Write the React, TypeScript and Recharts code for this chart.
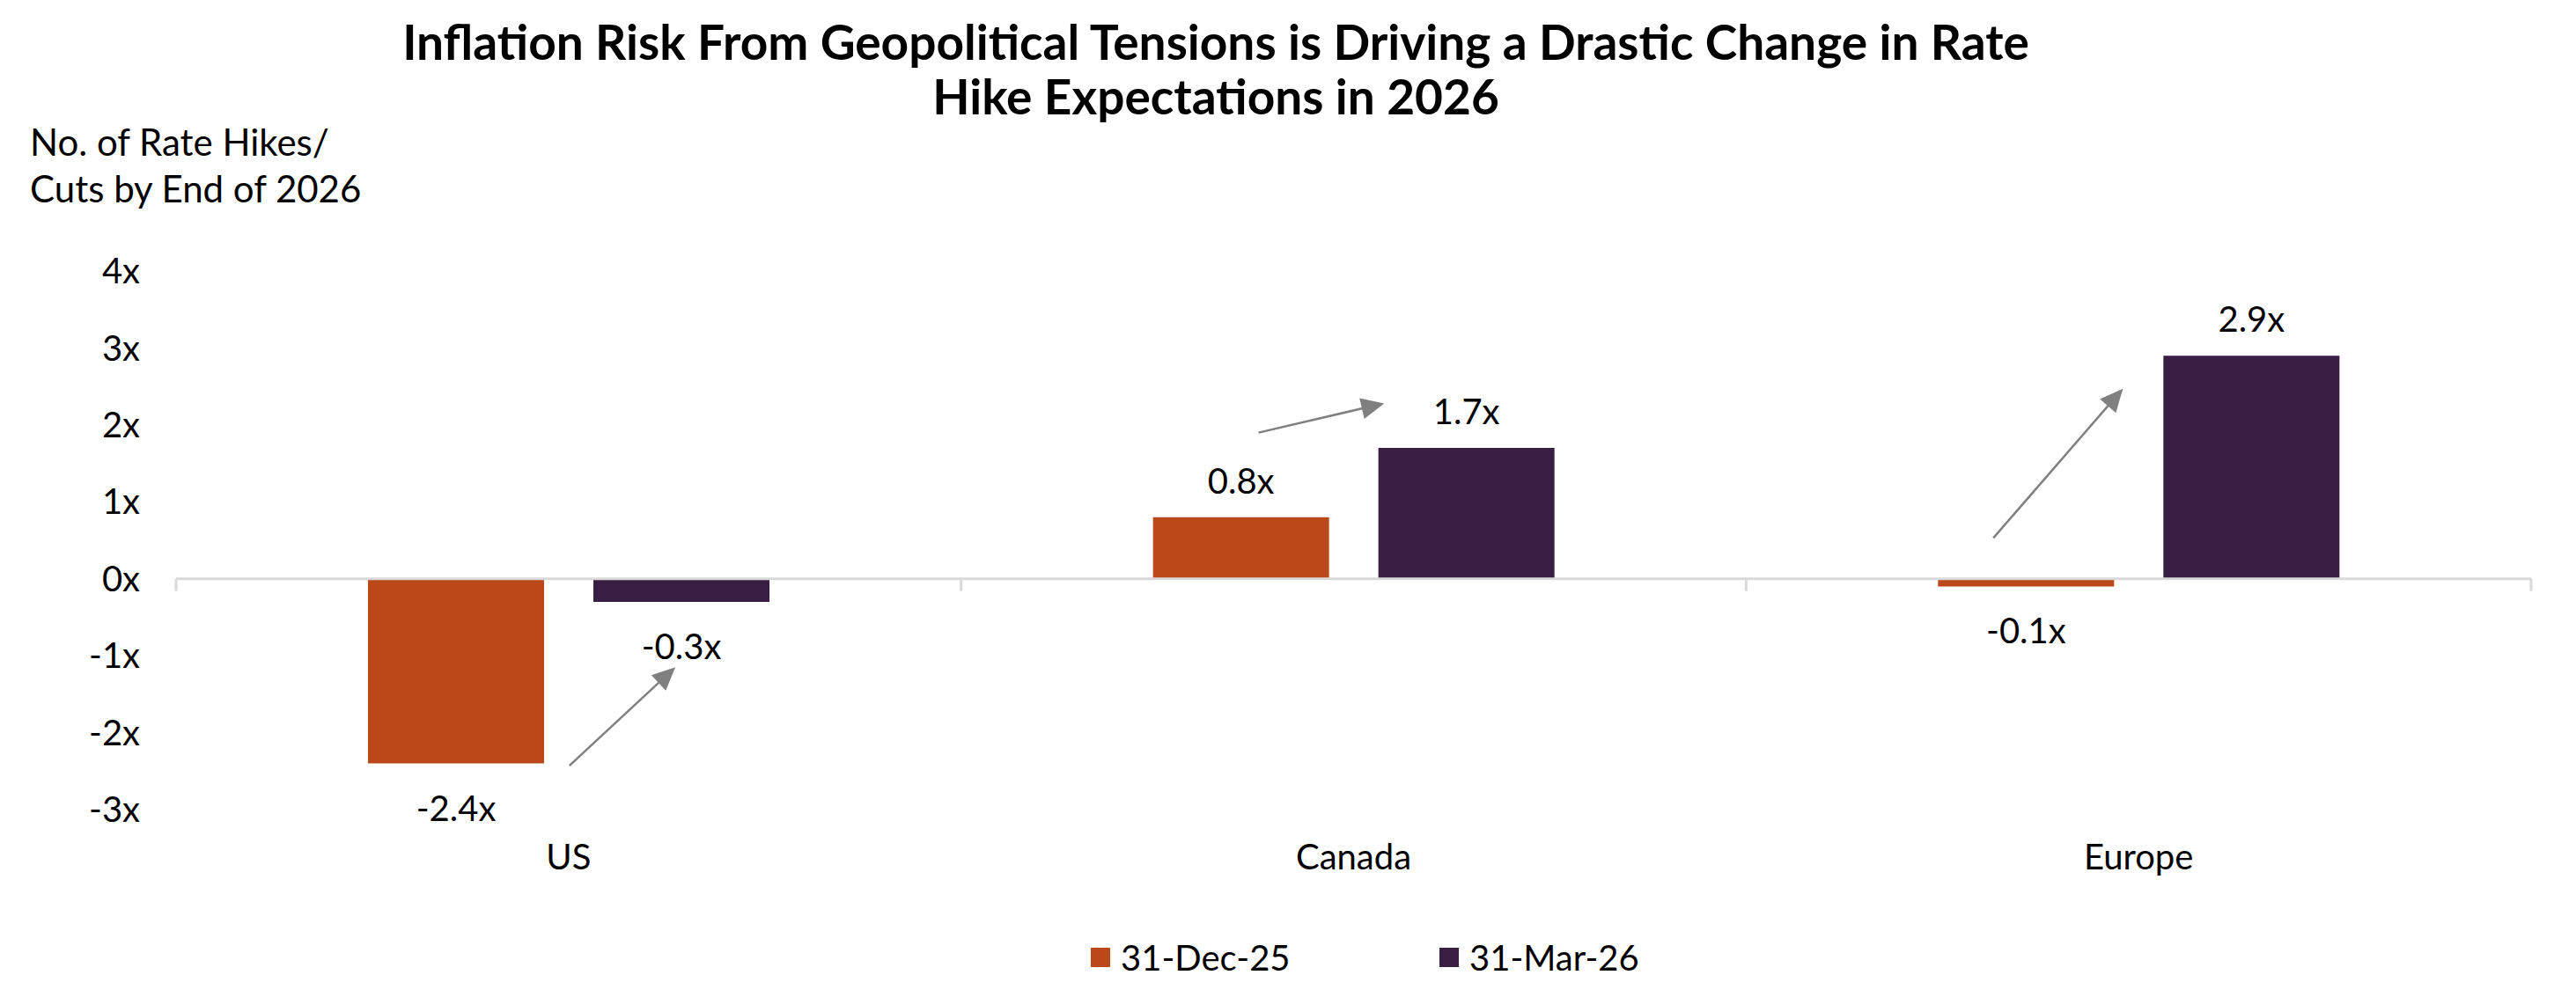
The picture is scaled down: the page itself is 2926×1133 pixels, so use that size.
import React from 'react';
import { BarChart, Bar, XAxis, YAxis, ReferenceLine, LabelList } from 'recharts';

const categories = ['US', 'Canada', 'Europe'];
const dec25 = [-2.4, 0.8, -0.1];
const mar26 = [-0.3, 1.7, 2.9];
const yTicks = [-3, -2, -1, 0, 1, 2, 3, 4];
const seriesNames = ['31-Dec-25', '31-Mar-26'];
const seriesColors = ['#BA4819', '#381E42'];

// arrow annotations, in (category-position, value) units
const arrowFrom = [
  { x: 0.501, y: -2.43 },
  { x: 1.379, y: 1.9 },
  { x: 2.315, y: 0.53 },
];
const arrowTo = [
  { x: 0.636, y: -1.15 },
  { x: 1.539, y: 2.28 },
  { x: 2.48, y: 2.47 },
];
const boundaries = [0, 1, 2, 3];

// pos = centre of each category band, for the hidden numeric axis
const data = categories.map((name, i) => ({ name, pos: i + 0.5, dec: dec25[i], mar: mar26[i] }));

const FONT = 'Lato, sans-serif';

const fmt = (v: number) => `${v.toFixed(1)}x`;

const BarLabel = (props: any) => {
  const { x, y, width, height, value } = props;
  const top = Math.min(y, y + height);
  const bottom = Math.max(y, y + height);
  const cy = value >= 0 ? top - 42 : bottom + 50;
  return (
    <text
      x={x + width / 2}
      y={cy}
      textAnchor="middle"
      dominantBaseline="central"
      fontSize={40}
      fontFamily={FONT}
      fill="#000"
    >
      {fmt(value)}
    </text>
  );
};

const Arrow = (props: any) => {
  const { x1, y1, x2, y2 } = props;
  const dx = x2 - x1;
  const dy = y2 - y1;
  const len = Math.sqrt(dx * dx + dy * dy) || 1;
  const ux = dx / len;
  const uy = dy / len;
  const hl = 26;
  const hw = 12;
  const bx = x2 - ux * hl;
  const by = y2 - uy * hl;
  const pts = `${x2},${y2} ${bx - uy * hw},${by + ux * hw} ${bx + uy * hw},${by - ux * hw}`;
  return (
    <g>
      <line x1={x1} y1={y1} x2={bx + ux * 2} y2={by + uy * 2} stroke="#808080" strokeWidth={2.5} />
      <polygon points={pts} fill="#808080" />
    </g>
  );
};

export default function App() {
  return (
    <div style={{ position: 'absolute', left: 0, top: 0, width: 2926, height: 1133, background: '#fff', fontFamily: FONT }}>
      <div
        style={{
          position: 'absolute',
          left: 0,
          width: 2762,
          top: 16,
          textAlign: 'center',
          fontWeight: 700,
          fontSize: 55,
          lineHeight: '62px',
          color: '#000',
        }}
      >
        Inflation Risk From Geopolitical Tensions is Driving a Drastic Change in Rate
        <br />
        Hike Expectations in 2026
      </div>
      <div style={{ position: 'absolute', left: 34, top: 135, fontSize: 42, lineHeight: '53px', color: '#000' }}>
        No. of Rate Hikes/
        <br />
        Cuts by End of 2026
      </div>

      <BarChart
        width={2926}
        height={1133}
        data={data}
        margin={{ top: 308, right: 51, bottom: 113, left: 0 }}
        barSize={200}
        barGap={56}
      >
        <XAxis
          dataKey="name"
          axisLine={false}
          tickLine={false}
          tickSize={0}
          tickMargin={40}
          height={100}
          tick={{ fontSize: 40, fontFamily: FONT, fill: '#000' }}
        />
        <XAxis xAxisId="num" dataKey="pos" type="number" scale="linear" domain={[0, 3]} allowDataOverflow hide />
        <YAxis
          domain={[-3, 4]}
          ticks={yTicks}
          interval={0}
          width={200}
          axisLine={false}
          tickLine={false}
          tickSize={0}
          tickMargin={41}
          tickFormatter={(v: number) => `${v}x`}
          tick={{ fontSize: 40, fontFamily: FONT, fill: '#000' }}
        />
        <Bar dataKey="dec" name={seriesNames[0]} fill={seriesColors[0]} isAnimationActive={false}>
          <LabelList dataKey="dec" content={BarLabel} />
        </Bar>
        <Bar dataKey="mar" name={seriesNames[1]} fill={seriesColors[1]} isAnimationActive={false}>
          <LabelList dataKey="mar" content={BarLabel} />
        </Bar>
        <ReferenceLine y={0} stroke="#D9D9D9" strokeWidth={3} />
        {boundaries.map((b) => (
          <ReferenceLine
            key={`b${b}`}
            xAxisId="num"
            segment={[
              { x: b, y: 0 },
              { x: b, y: -0.16 },
            ]}
            stroke="#D9D9D9"
            strokeWidth={3}
          />
        ))}
        {arrowFrom.map((f, i) => (
          <ReferenceLine
            key={`a${i}`}
            xAxisId="num"
            segment={[
              { x: f.x, y: f.y },
              { x: arrowTo[i].x, y: arrowTo[i].y },
            ]}
            shape={Arrow}
          />
        ))}
      </BarChart>

      {seriesNames.map((n, i) => (
        <div
          key={n}
          style={{
            position: 'absolute',
            left: i === 0 ? 1239 : 1635,
            top: 1064,
            height: 48,
            display: 'flex',
            alignItems: 'center',
            fontSize: 40,
            color: '#000',
          }}
        >
          <span style={{ width: 22, height: 22, background: seriesColors[i], marginRight: 12, display: 'inline-block' }} />
          {n}
        </div>
      ))}
    </div>
  );
}
